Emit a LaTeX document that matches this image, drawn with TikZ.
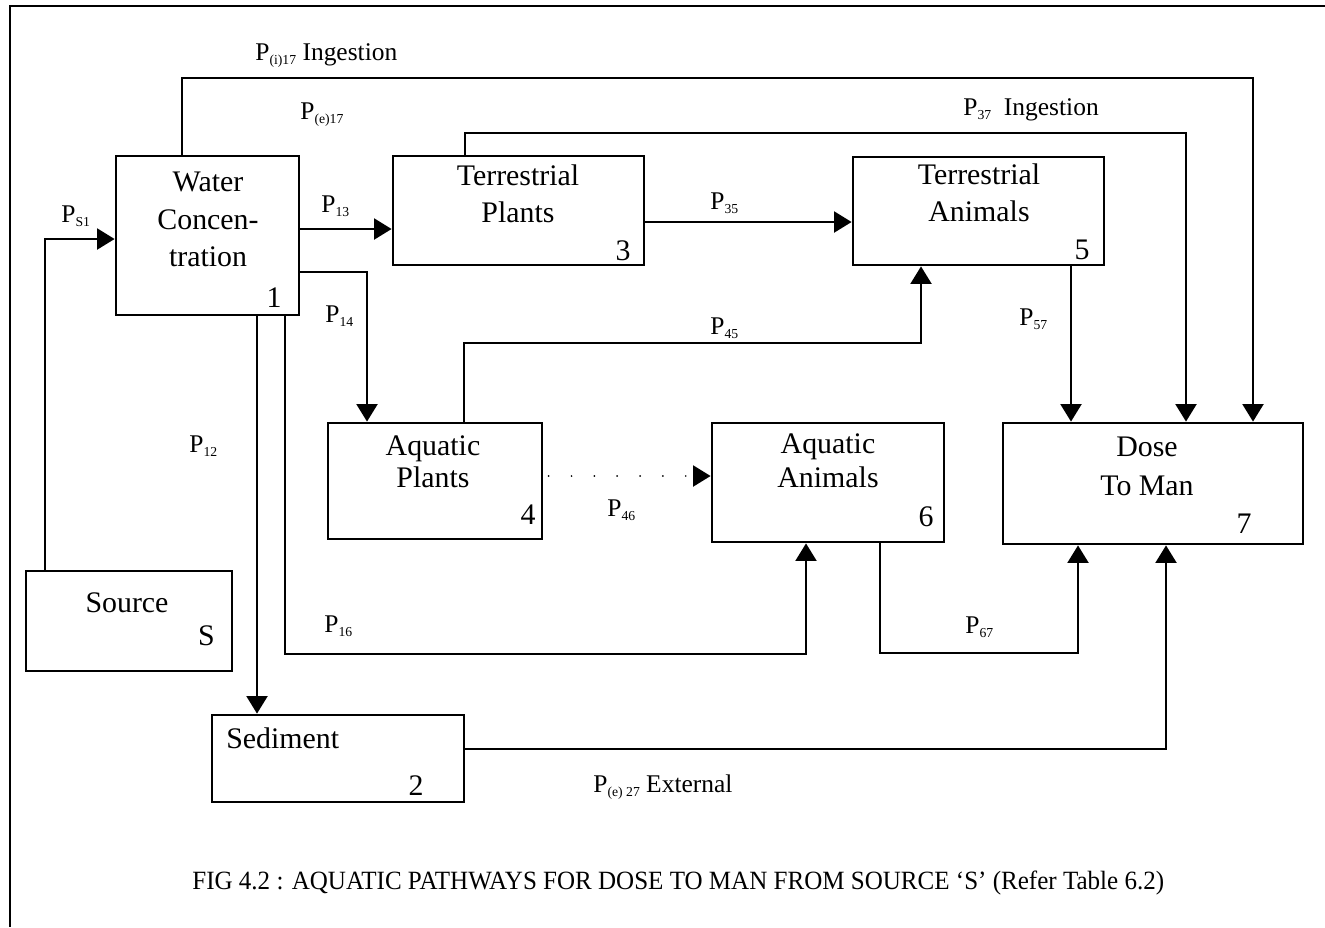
\documentclass[tikz,border=0pt]{standalone}
\usepackage{graphicx}
\usepackage{fontspec}
\setmainfont{Liberation Serif}
\usetikzlibrary{arrows.meta,fit}
\newcommand{\Psub}[1]{P\raisebox{-2.8pt}{\fontsize{7.8}{8}\selectfont #1}}
\tikzset{
  box/.style={draw, line width=1.6pt, inner sep=0pt},
  conn/.style={line width=1.1pt},
  arr/.style={conn, -{Triangle[length=10pt,width=12pt]}},
  dotline/.style={line width=1.1pt, line cap=round, dash pattern=on 0pt off 13pt, -{Triangle[length=10pt,width=12pt]}},
  btext/.style={inner sep=0pt, align=center},
  num/.style={inner sep=0pt, font=\fontsize{17}{20}\selectfont, anchor=base east},
  lab/.style={inner sep=0pt, font=\fontsize{14.5}{16}\selectfont, anchor=base west},
}
\begin{document}
\begin{tikzpicture}[x=0.02cm, y=-0.02cm]
\useasboundingbox (0,0) rectangle (1325,927);
% frame
\draw[line width=1.6pt] (1325,6) -- (10,6) -- (10,927);

% boxes
\node[box, fit={(116,156) (299,315)}] (n1) {};
\node[box, fit={(393,156) (644,265)}] (n3) {};
\node[box, fit={(853,157) (1104,265)}] (n5) {};
\node[box, fit={(328,423) (542,539)}] (n4) {};
\node[box, fit={(712,423) (944,542)}] (n6) {};
\node[box, fit={(1003,423) (1303,544)}] (n7) {};
\node[box, fit={(26,571) (232,671)}] (nS) {};
\node[box, fit={(212,715) (464,802)}] (n2) {};

% box texts
\node[btext, anchor=north, font=\fontsize{17}{21.3}\selectfont] (t1) at (208,172) {Water\\Concen-\\tration};
\node[btext, anchor=north, font=\fontsize{17}{21.5}\selectfont] (t3) at (518,164) {Terrestrial\\Plants};
\node[btext, anchor=north, font=\fontsize{17}{21.5}\selectfont] (t5) at (979,163) {Terrestrial\\Animals};
\node[btext, anchor=north, font=\fontsize{17}{18.5}\selectfont] (t4) at (433,435) {Aquatic\\Plants};
\node[btext, anchor=north, font=\fontsize{17}{19.8}\selectfont] (t6) at (828,433) {Aquatic\\Animals};
\node[btext, anchor=north, font=\fontsize{17}{22}\selectfont] (t7) at (1147,437) {Dose\\To Man};
\node[btext, anchor=base, font=\fontsize{17}{20}\selectfont] (tS) at (127,612) {Source};
\node[btext, anchor=base west, font=\fontsize{17}{20}\selectfont] (t2) at (226,748) {Sediment};

% numbers
\node[num] (m1) at (282,307) {1};
\node[num] (m3) at (631,260) {3};
\node[num] (m5) at (1090,259) {5};
\node[num] (m4) at (536,524) {4};
\node[num] (m6) at (934,526) {6};
\node[num] (m7) at (1252,533) {7};
\node[num] (mS) at (215,645) {S};
\node[num] (m2) at (424,795) {2};

% bend coordinates
\coordinate (kS) at (45,239);
\coordinate (k17a) at (182,78);
\coordinate (k17b) at (1253,78);
\coordinate (k37a) at (465,133);
\coordinate (k37b) at (1186,133);
\coordinate (k13) at (0,229);
\coordinate (k35) at (0,222);
\coordinate (k14) at (367,272);
\coordinate (k12) at (257,0);
\coordinate (k16a) at (285,654);
\coordinate (k16b) at (806,654);
\coordinate (k45a) at (464,343);
\coordinate (k45b) at (921,343);
\coordinate (k46) at (0,476);
\coordinate (k67a) at (880,653);
\coordinate (k67b) at (1078,653);
\coordinate (k57) at (1071,0);
\coordinate (k27) at (1166,749);

% connectors
\draw[arr] (nS.north -| kS) -- (kS) -- (kS -| n1.west);
\draw[arr] (n1.north -| k17a) -- (k17a) -- (k17b) -- (k17b |- n7.north);
\draw[arr] (n3.north -| k37a) -- (k37a) -- (k37b) -- (k37b |- n7.north);
\draw[arr] (n1.east |- k13) -- (n3.west |- k13);
\draw[arr] (n3.east |- k35) -- (n5.west |- k35);
\draw[arr] (n1.east |- k14) -- (k14) -- (k14 |- n4.north);
\draw[arr] (n1.south -| k12) -- (n2.north -| k12);
\draw[arr] (n1.south -| k16a) -- (k16a) -- (k16b) -- (k16b |- n6.south);
\draw[arr] (n4.north -| k45a) -- (k45a) -- (k45b) -- (k45b |- n5.south);
\draw[dotline] ([xshift=3pt]n4.east |- k46) -- (n6.west |- k46);
\draw[arr] (n6.south -| k67a) -- (k67a) -- (k67b) -- (k67b |- n7.south);
\draw[arr] (n5.south -| k57) -- (n7.north -| k57);
\draw[arr] (n2.east |- k27) -- (k27) -- (k27 |- n7.south);

% labels
\node[lab] (lS1) at (61,222) {\Psub{S1}};
\node[lab] (li17) at (255,60) {\Psub{(i)17} Ingestion};
\node[lab] (le17) at (300,119) {\Psub{(e)17}};
\node[lab] (l13) at (321,212) {\Psub{13}};
\node[lab] (l14) at (325,322) {\Psub{14}};
\node[lab] (l35) at (710,209) {\Psub{35}};
\node[lab] (l45) at (710,334) {\Psub{45}};
\node[lab] (l37) at (963,115) {\Psub{37}\ \ Ingestion};
\node[lab] (l57) at (1019,325) {\Psub{57}};
\node[lab] (l12) at (189,452) {\Psub{12}};
\node[lab] (l16) at (324,632) {\Psub{16}};
\node[lab] (l46) at (607,516) {\Psub{46}};
\node[lab] (l67) at (965,633) {\Psub{67}};
\node[lab] (le27) at (593,792) {\Psub{(e) 27} External};

% caption
\node[anchor=base west, inner sep=0pt, font=\fontsize{15}{17}\selectfont] (cap) at (192,889) {\resizebox{19.44cm}{\height}{FIG 4.2 : AQUATIC PATHWAYS FOR DOSE TO MAN FROM SOURCE ‘S’ (Refer Table 6.2)}};
\end{tikzpicture}
\end{document}
